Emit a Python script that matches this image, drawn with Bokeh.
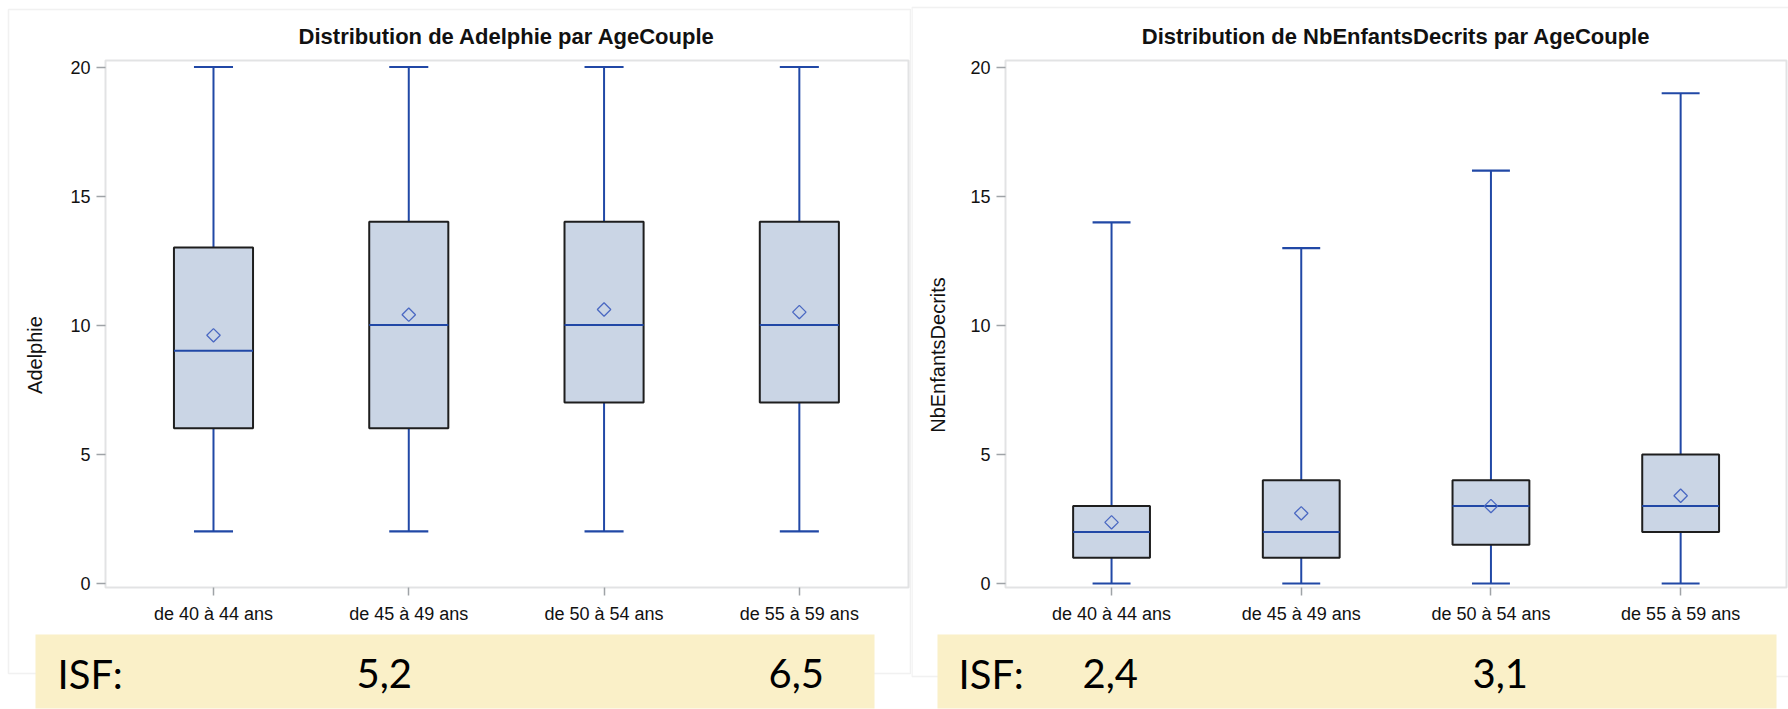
import math
from bokeh.plotting import figure
from bokeh.layouts import row
from bokeh.models import BoxAnnotation, Label, FixedTicker, Range1d
from bokeh.embed import file_html
from bokeh.resources import INLINE

categories = ["de 40 à 44 ans", "de 45 à 49 ans", "de 50 à 54 ans", "de 55 à 59 ans"]
positions = [1, 2, 3, 4]
y_ticks = [0, 5, 10, 15, 20]

adel_min = [2, 2, 2, 2]
adel_q1 = [6, 6, 7, 7]
adel_med = [9, 10, 10, 10]
adel_q3 = [13, 14, 14, 14]
adel_max = [20, 20, 20, 20]
adel_mean = [9.6, 10.4, 10.6, 10.5]

nbe_min = [0, 0, 0, 0]
nbe_q1 = [1, 1, 1.5, 2]
nbe_med = [2, 2, 3, 3]
nbe_q3 = [3, 4, 4, 5]
nbe_max = [14, 13, 16, 19]
nbe_mean = [2.37, 2.72, 3.0, 3.4]

isf_label = "ISF:"
isf_left = ["5,2", "6,5"]
isf_right = ["2,4", "3,1"]

FONT = "Liberation Sans"
ISF_FONT = "Lato"
BOX_FILL = "#CAD5E5"
BOX_LINE = "#1E1E1E"
BLUE = "#2148A6"
MEAN_BLUE = "#4A68C2"
FRAME_GRAY = "#9FA3A7"
PANEL_GRAY = "#D2D2D2"
BAND = "#FAF0C8"
BOX_W = 0.405
CAP_W = 0.2
H = 709


def make_panel(title, ylabel, mins, q1s, meds, q3s, maxs, means, W, inner_px, xi, yi,
               border_px, band_px, isf_texts, isf_xs, isf_label_x, label_standoff):
    fl, fr, ft, fb = inner_px
    sx = (xi[1] - xi[0]) / (fr - fl)
    sy = (yi[1] - yi[0]) / (fb - ft)
    X0 = xi[0] - fl * sx
    X1 = xi[1] + (W - fr) * sx
    YT = yi[1] + ft * sy
    YB = yi[0] - (H - fb) * sy

    def dx(px):
        return X0 + px * sx

    def dy(py):
        return YT - py * sy

    p = figure(width=W, height=H, output_backend="svg", toolbar_location=None,
               x_range=Range1d(X0, X1), y_range=Range1d(YB, YT),
               min_border=0, min_border_left=0, min_border_right=0,
               min_border_top=0, min_border_bottom=0)
    p.title.visible = False
    p.background_fill_color = "white"
    p.border_fill_color = "white"
    p.outline_line_color = None
    p.xgrid.visible = False
    p.ygrid.visible = False

    for ax in (p.xaxis[0], p.yaxis[0]):
        ax.axis_line_color = None
        ax.major_tick_line_color = FRAME_GRAY
        ax.major_tick_line_width = 1.5
        ax.major_tick_in = 0
        ax.minor_tick_line_color = None
        ax.major_label_text_font = FONT
        ax.major_label_text_font_size = "18px"
        ax.major_label_text_color = "#111111"

    p.yaxis.fixed_location = xi[0]
    p.yaxis.ticker = FixedTicker(ticks=y_ticks)
    p.yaxis.major_tick_out = 9
    p.yaxis.major_label_standoff = 6
    p.yaxis.axis_label = ylabel
    p.yaxis.axis_label_text_font = FONT
    p.yaxis.axis_label_text_font_size = "20px"
    p.yaxis.axis_label_text_font_style = "normal"
    p.yaxis.axis_label_text_color = "#111111"
    p.yaxis.axis_label_standoff = label_standoff

    p.xaxis.fixed_location = yi[0]
    p.xaxis.ticker = FixedTicker(ticks=positions)
    p.xaxis.major_label_overrides = {pos: cat for pos, cat in zip(positions, categories)}
    p.xaxis.major_tick_out = 8
    p.xaxis.major_label_standoff = 8

    # outer panel border
    bl, br, bt, bb = border_px
    p.add_layout(BoxAnnotation(left=dx(bl), right=dx(br), top=dy(bt), bottom=dy(bb),
                               fill_alpha=0, line_color=PANEL_GRAY, line_width=1.5,
                               level="underlay"))
    # plot frame
    p.add_layout(BoxAnnotation(left=xi[0], right=xi[1], top=yi[1], bottom=yi[0],
                               fill_alpha=0, line_color=FRAME_GRAY, line_width=2,
                               level="underlay"))

    # whiskers
    p.segment(x0=positions, y0=q3s, x1=positions, y1=maxs, line_color=BLUE, line_width=2)
    p.segment(x0=positions, y0=mins, x1=positions, y1=q1s, line_color=BLUE, line_width=2)
    cx0 = [x - CAP_W / 2 for x in positions]
    cx1 = [x + CAP_W / 2 for x in positions]
    p.segment(x0=cx0, y0=maxs, x1=cx1, y1=maxs, line_color=BLUE, line_width=2.2)
    p.segment(x0=cx0, y0=mins, x1=cx1, y1=mins, line_color=BLUE, line_width=2.2)
    # boxes
    p.vbar(x=positions, width=BOX_W, bottom=q1s, top=q3s, fill_color=BOX_FILL,
           line_color=BOX_LINE, line_width=2)
    bx0 = [x - BOX_W / 2 for x in positions]
    bx1 = [x + BOX_W / 2 for x in positions]
    p.segment(x0=bx0, y0=meds, x1=bx1, y1=meds, line_color=BLUE, line_width=2)
    p.scatter(x=positions, y=means, marker="square", angle=math.pi / 4, size=9.5,
              fill_color=None, line_color=MEAN_BLUE, line_width=1.3)

    # title
    p.add_layout(Label(x=(xi[0] + xi[1]) / 2, y=dy(36), text=title, text_font=FONT,
                       text_font_size="22px", text_font_style="bold",
                       text_color="#111111", text_align="center",
                       text_baseline="alphabetic", level="overlay"))

    # ISF band
    al, ar, at, ab = band_px
    p.add_layout(BoxAnnotation(left=dx(al), right=dx(ar), top=dy(at), bottom=dy(ab),
                               fill_color=BAND, fill_alpha=1.0, line_alpha=0,
                               level="annotation"))
    for t, xx in zip([isf_label] + isf_texts, [isf_label_x] + isf_xs):
        p.add_layout(Label(x=dx(xx), y=dy(673), text=t, text_font=ISF_FONT,
                           text_font_size="40px", text_baseline="alphabetic",
                           text_align="left", text_color="black", level="overlay"))
    return p


p1 = make_panel("Distribution de Adelphie par AgeCouple", "Adelphie",
                adel_min, adel_q1, adel_med, adel_q3, adel_max, adel_mean,
                911, (105, 908, 60, 587), (0.447, 4.559), (-0.174, 20.252),
                (8, 910, 9, 673), (35, 874, 634, 708),
                isf_left, [356, 768], 57, 21)
p2 = make_panel("Distribution de NbEnfantsDecrits par AgeCouple", "NbEnfantsDecrits",
                nbe_min, nbe_q1, nbe_med, nbe_q3, nbe_max, nbe_mean,
                877, (94, 875, 60, 587), (0.441, 4.558), (-0.155, 20.27),
                (0.5, 900, 7, 676), (26, 865, 634, 708),
                isf_right, [171, 561], 47, 18)

layout = row(p1, p2, spacing=0)
open("out.html", "w").write(file_html(layout, INLINE))
